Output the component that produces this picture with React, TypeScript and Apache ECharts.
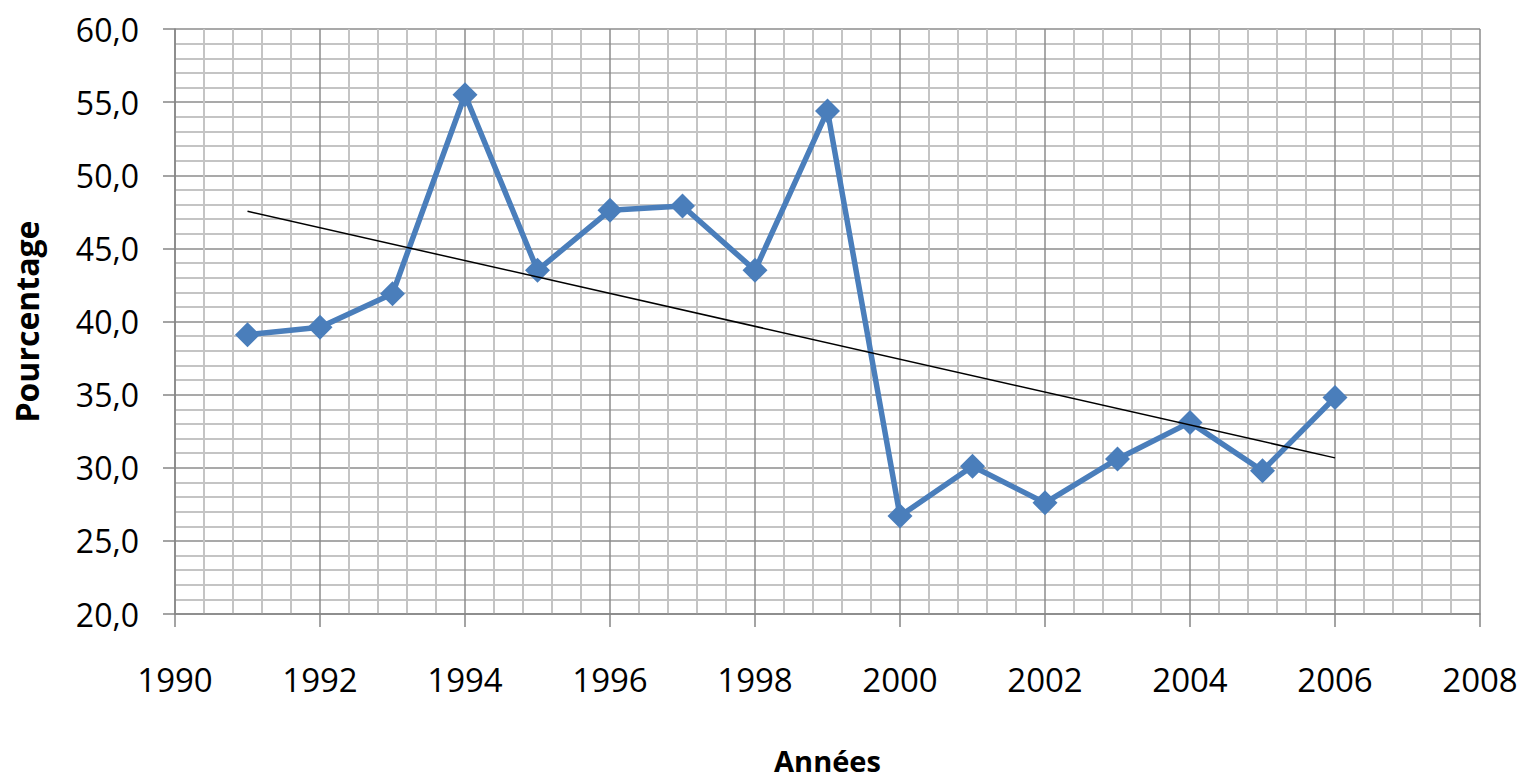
import React, { useEffect, useRef } from "react";
import * as echarts from "echarts";

const years = [1991, 1992, 1993, 1994, 1995, 1996, 1997, 1998, 1999, 2000, 2001, 2002, 2003, 2004, 2005, 2006];
const values = [39.1, 39.6, 41.9, 55.5, 43.5, 47.6, 47.9, 43.5, 54.4, 26.7, 30.1, 27.6, 30.6, 33.1, 29.8, 34.8];
const xTitle = "Années";
const yTitle = "Pourcentage";

// Linear trend (least squares) computed from the data, as the original spreadsheet trendline
function trend(): number[][] {
  const n = years.length;
  const mx = years.reduce((a, b) => a + b, 0) / n;
  const my = values.reduce((a, b) => a + b, 0) / n;
  let sxy = 0, sxx = 0;
  for (let i = 0; i < n; i++) {
    sxy += (years[i] - mx) * (values[i] - my);
    sxx += (years[i] - mx) * (years[i] - mx);
  }
  const slope = sxy / sxx;
  const x0 = years[0], x1 = years[n - 1];
  return [[x0, my + slope * (x0 - mx)], [x1, my + slope * (x1 - mx)]];
}

export default function App() {
  const ref = useRef<HTMLDivElement>(null);
  useEffect(() => {
    if (!ref.current) return;
    const chart = echarts.init(ref.current, null, { renderer: "svg" });
    const font = "'Open Sans', sans-serif";
    chart.setOption({
      animation: false,
      backgroundColor: "#ffffff",
      grid: { left: 175, right: 44, top: 29, bottom: 169, containLabel: false, outerBoundsMode: "none" },
      xAxis: {
        type: "value",
        min: 1990,
        max: 2008,
        interval: 2,
        name: xTitle,
        nameLocation: "middle",
        nameGap: 132,
        nameTextStyle: { fontFamily: font, fontSize: 29, fontWeight: "bold", color: "#000" },
        axisLine: { show: true, lineStyle: { color: "#868686", width: 1.5 } },
        axisTick: { show: true, length: 13, lineStyle: { color: "#868686", width: 1.5 } },
        axisLabel: { fontFamily: font, fontSize: 33, color: "#000", margin: 49, formatter: (v: number) => String(v) },
        splitLine: { show: true, lineStyle: { color: "#8c8c8c", width: 1.5 } },
        minorTick: { show: false, splitNumber: 5 },
        minorSplitLine: { show: true, lineStyle: { color: "#c4c4c4", width: 2 } },
      },
      yAxis: {
        type: "value",
        min: 20,
        max: 60,
        interval: 5,
        name: yTitle,
        nameLocation: "middle",
        nameGap: 133,
        nameTextStyle: { fontFamily: font, fontSize: 32, fontWeight: "bold", color: "#000" },
        axisLine: { show: true, lineStyle: { color: "#868686", width: 1.5 } },
        axisTick: { show: true, length: 12, lineStyle: { color: "#868686", width: 1.5 } },
        axisLabel: {
          fontFamily: font,
          fontSize: 32,
          color: "#000",
          margin: 36,
          formatter: (v: number) => v.toFixed(1).replace(".", ","),
        },
        splitLine: { show: true, lineStyle: { color: "#8c8c8c", width: 1.5 } },
        minorTick: { show: false, splitNumber: 5 },
        minorSplitLine: { show: true, lineStyle: { color: "#c4c4c4", width: 2 } },
      },
      series: [
        {
          type: "line",
          data: years.map((y, i) => [y, values[i]]),
          symbol: "diamond",
          symbolSize: 25,
          itemStyle: { color: "#4A7EBB" },
          lineStyle: { color: "#4A7EBB", width: 5.5 },
          z: 2,
        },
        {
          type: "line",
          data: trend(),
          symbol: "none",
          lineStyle: { color: "#000000", width: 1.5 },
          z: 3,
        },
      ],
    });
    return () => chart.dispose();
  }, []);
  return <div ref={ref} style={{ position: "absolute", left: 0, top: 0, width: 1524, height: 783 }} />;
}
